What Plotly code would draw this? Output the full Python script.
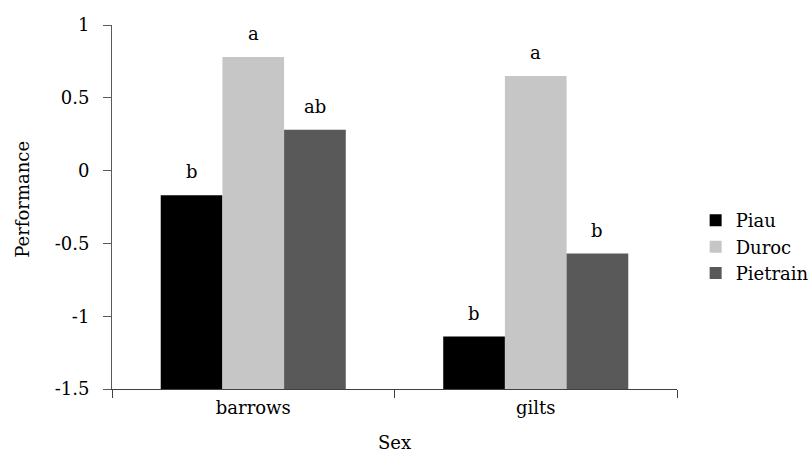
import plotly.graph_objects as go

# Data
sexes = ["barrows", "gilts"]
breeds = ["Piau", "Duroc", "Pietrain"]
piau = [-0.17, -1.14]
duroc = [0.78, 0.65]
pietrain = [0.28, -0.57]
piau_letters = ["b", "b"]
duroc_letters = ["a", "a"]
pietrain_letters = ["ab", "b"]

y_ticks = [-1.5, -1, -0.5, 0, 0.5, 1]
y_tick_text = ["-1.5", "-1", "-0.5", "0", "0.5", "1"]

# Bars rise from the bottom of the value axis
AXIS_FLOOR = -1.5
FONT = "DejaVu Serif"
FS = 18
colors = {"Piau": "#000000", "Duroc": "#c6c6c6", "Pietrain": "#595959"}
series = {"Piau": piau, "Duroc": duroc, "Pietrain": pietrain}
letters = {"Piau": piau_letters, "Duroc": duroc_letters, "Pietrain": pietrain_letters}

BARGAP = 0.345
bar_w = (1 - BARGAP) / len(breeds)

fig = go.Figure()
annotations = []
for j, name in enumerate(breeds):
    vals = series[name]
    fig.add_trace(go.Bar(
        name=name,
        x=sexes,
        y=[v - AXIS_FLOOR for v in vals],
        base=AXIS_FLOOR,
        marker=dict(color=colors[name], line=dict(width=0)),
        customdata=vals,
        hovertemplate="%{x}: %{customdata}<extra>" + name + "</extra>",
    ))
    for i, v in enumerate(vals):
        annotations.append(dict(
            x=i + (j - 1) * bar_w, y=v, xref="x", yref="y",
            text=letters[name][i], showarrow=False,
            yanchor="bottom", yshift=11,
            font=dict(family=FONT, size=FS, color="#000000"),
        ))

# Value-axis title, rotated, set slightly above the plot's mid-height
annotations.append(dict(
    text="Performance", xref="paper", yref="paper", x=0, y=0.52,
    xanchor="center", yanchor="middle", xshift=-89, textangle=-90,
    showarrow=False, font=dict(family=FONT, size=FS, color="#000000"),
))

fig.update_layout(
    width=808, height=453,
    margin=dict(l=112, r=131, t=25, b=64, autoexpand=False),
    paper_bgcolor="white", plot_bgcolor="white",
    barmode="group", bargap=BARGAP, bargroupgap=0,
    font=dict(family=FONT, size=FS, color="#000000"),
    annotations=annotations,
    legend=dict(
        x=1.033, xanchor="left", y=0.39, yanchor="middle",
        font=dict(family=FONT, size=FS, color="#000000"),
        bgcolor="rgba(0,0,0,0)", tracegroupgap=0,
    ),
    xaxis=dict(
        type="category", range=[-0.5, 1.5],
        showline=True, linecolor="#404040", linewidth=1,
        ticks="outside", tickson="boundaries", ticklen=8,
        tickcolor="#404040", tickwidth=1,
        showgrid=False, zeroline=False,
        tickfont=dict(family=FONT, size=FS),
        ticklabelstandoff=2,
        title=dict(text="Sex", font=dict(family=FONT, size=FS), standoff=23),
    ),
    yaxis=dict(
        range=[-1.5, 1], tickvals=y_ticks, ticktext=y_tick_text,
        showline=True, linecolor="#595959", linewidth=1,
        ticks="outside", ticklen=8, tickcolor="#595959", tickwidth=1,
        showgrid=False, zeroline=False,
        tickfont=dict(family=FONT, size=FS),
        ticklabelstandoff=10,
    ),
)

fig.write_html("out.html")
